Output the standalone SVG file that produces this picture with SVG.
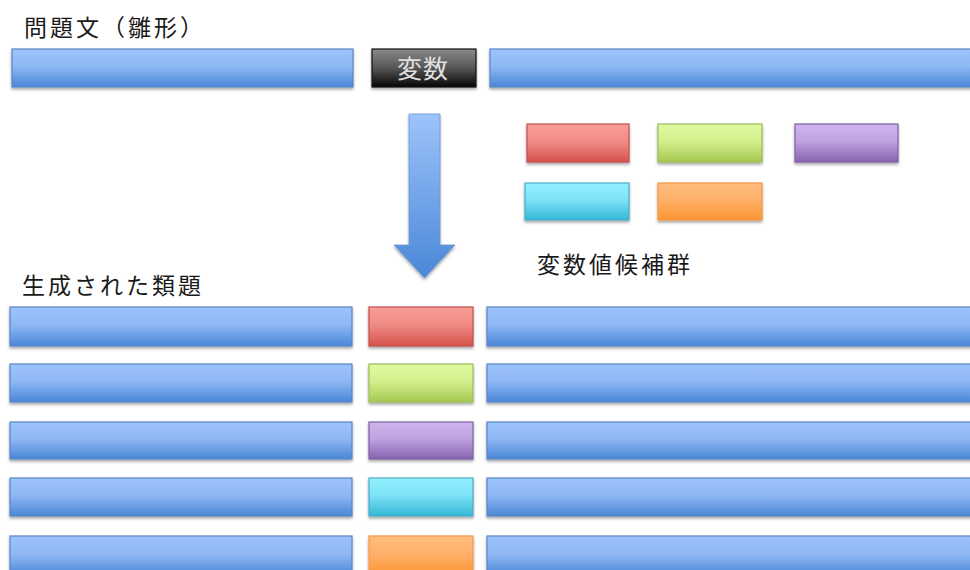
<svg xmlns="http://www.w3.org/2000/svg" width="970" height="570" viewBox="0 0 970 570">
<defs>
<linearGradient id="gBlue" x1="0" y1="0" x2="0" y2="1"><stop offset="0" stop-color="#9dc3fb"/><stop offset="0.45" stop-color="#8fb8f5"/><stop offset="1" stop-color="#4a87d6"/></linearGradient>
<linearGradient id="gRed" x1="0" y1="0" x2="0" y2="1"><stop offset="0" stop-color="#fa9d97"/><stop offset="0.45" stop-color="#f08c86"/><stop offset="1" stop-color="#d6524a"/></linearGradient>
<linearGradient id="gGreen" x1="0" y1="0" x2="0" y2="1"><stop offset="0" stop-color="#dffb9f"/><stop offset="0.45" stop-color="#d2f08e"/><stop offset="1" stop-color="#a5c951"/></linearGradient>
<linearGradient id="gPurple" x1="0" y1="0" x2="0" y2="1"><stop offset="0" stop-color="#cfb5ee"/><stop offset="0.45" stop-color="#bea3df"/><stop offset="1" stop-color="#8763b0"/></linearGradient>
<linearGradient id="gCyan" x1="0" y1="0" x2="0" y2="1"><stop offset="0" stop-color="#92f0ff"/><stop offset="0.45" stop-color="#7ee2f6"/><stop offset="1" stop-color="#33b8d6"/></linearGradient>
<linearGradient id="gOrange" x1="0" y1="0" x2="0" y2="1"><stop offset="0" stop-color="#ffbd7f"/><stop offset="0.45" stop-color="#ffb06a"/><stop offset="1" stop-color="#fb9531"/></linearGradient>
<linearGradient id="gBlack" x1="0" y1="0" x2="0" y2="1"><stop offset="0" stop-color="#8a8a8a"/><stop offset="0.5" stop-color="#555"/><stop offset="1" stop-color="#050505"/></linearGradient>
<linearGradient id="gArrow" x1="0" y1="0" x2="0" y2="1"><stop offset="0" stop-color="#9dc3fb"/><stop offset="1" stop-color="#4a87d6"/></linearGradient>
<filter id="sh" x="-5%" y="-20%" width="110%" height="150%"><feDropShadow dx="0" dy="2" stdDeviation="1.5" flood-color="#000" flood-opacity="0.35"/></filter>
</defs>
<style>
.lbl{font-family:"Noto Sans CJK JP","Noto Sans",sans-serif;font-size:23px;letter-spacing:3px;fill:#1a1a1a}
.bar{fill:url(#gBlue);stroke:#5a86c2;stroke-width:1.2;filter:url(#sh)}
.red{fill:url(#gRed);stroke:#c0504d;stroke-width:1.2;filter:url(#sh)}
.green{fill:url(#gGreen);stroke:#9bbb59;stroke-width:1.2;filter:url(#sh)}
.purple{fill:url(#gPurple);stroke:#7e62a1;stroke-width:1.2;filter:url(#sh)}
.cyan{fill:url(#gCyan);stroke:#4bacc6;stroke-width:1.2;filter:url(#sh)}
.orange{fill:url(#gOrange);stroke:#f79646;stroke-width:1.2;filter:url(#sh)}
</style>
<rect width="970" height="570" fill="#fff"/>
<g id="title1"><text class="lbl" x="24" y="36">問題文（雛形）</text></g>
<g id="template">
<rect class="bar" x="12" y="49" width="341" height="38"/>
<g id="var"><rect x="372" y="49" width="104" height="38" fill="url(#gBlack)" stroke="#111" stroke-width="1.2" filter="url(#sh)"/>
<text x="423" y="78" text-anchor="middle" font-family="Noto Sans CJK JP,sans-serif" font-size="25" letter-spacing="1" fill="#e0e0e0">変数</text></g>
<rect class="bar" x="490" y="49" width="490" height="38"/>
</g>
<g id="connectors">
<path d="M409,114 H440 V245 H455 L424.5,278 L394,245 H409 Z" fill="url(#gArrow)" stroke="#6a97d6" stroke-width="0.8" filter="url(#sh)"/>
</g>
<g id="candidates">
<rect class="red" x="527" y="124" width="102" height="38"/>
<rect class="green" x="658" y="124" width="104" height="38"/>
<rect class="purple" x="795" y="124" width="103" height="38"/>
<rect class="cyan" x="525" y="183" width="104" height="37"/>
<rect class="orange" x="658" y="183" width="104" height="37"/>
<text class="lbl" x="537" y="273">変数値候補群</text>
</g>
<g id="title2"><text class="lbl" x="22" y="294">生成された類題</text></g>
<g id="row1"><rect class="bar" x="10" y="307" width="342" height="39"/><rect class="red" x="369" y="307" width="104" height="39"/><rect class="bar" x="487" y="307" width="493" height="39"/></g>
<g id="row2"><rect class="bar" x="10" y="364" width="342" height="38"/><rect class="green" x="369" y="364" width="104" height="38"/><rect class="bar" x="487" y="364" width="493" height="38"/></g>
<g id="row3"><rect class="bar" x="10" y="422" width="342" height="37"/><rect class="purple" x="369" y="422" width="104" height="37"/><rect class="bar" x="487" y="422" width="493" height="37"/></g>
<g id="row4"><rect class="bar" x="10" y="478" width="342" height="38"/><rect class="cyan" x="369" y="478" width="104" height="38"/><rect class="bar" x="487" y="478" width="493" height="38"/></g>
<g id="row5"><rect class="bar" x="10" y="536" width="342" height="40"/><rect class="orange" x="369" y="536" width="104" height="40"/><rect class="bar" x="487" y="536" width="493" height="40"/></g>
</svg>
